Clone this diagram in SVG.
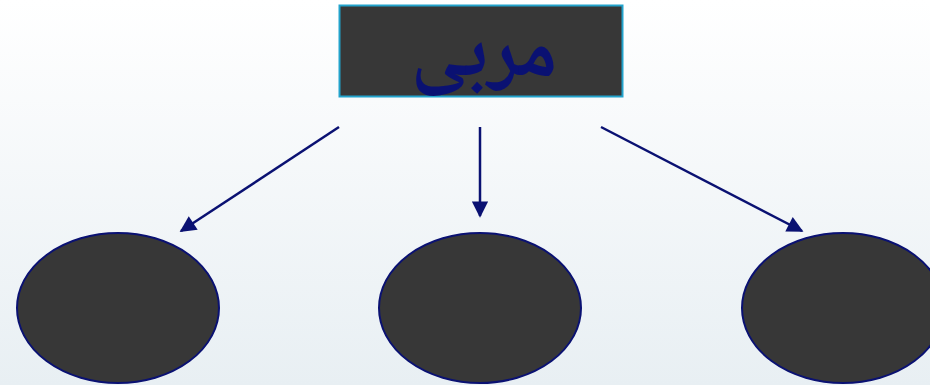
<svg xmlns="http://www.w3.org/2000/svg" width="930" height="385" viewBox="0 0 930 385">
<defs>
<linearGradient id="bg" x1="0" y1="0" x2="0" y2="1">
<stop offset="0" stop-color="#FFFFFF"/>
<stop offset="1" stop-color="#E8EFF3"/>
</linearGradient>
<marker id="ah" viewBox="0 0 10 10" refX="9" refY="5" markerWidth="7" markerHeight="6.5" orient="auto" markerUnits="strokeWidth">
<path d="M0,0 L10,5 L0,10 Z" fill="#0A1172"/>
</marker>
</defs>
<style>
.node{fill:#373737;stroke:#0A1172;stroke-width:2}
.conn{stroke:#0A1172;stroke-width:2.5;fill:none;marker-end:url(#ah)}
</style>
<rect width="930" height="385" fill="url(#bg)"/>
<g id="top">
<rect x="339.5" y="5.5" width="283" height="91" fill="#373737" stroke="#22A3CC" stroke-width="2"/>
<text x="484" y="76" text-anchor="middle" font-family="'Noto Naskh Arabic', 'Noto Sans Arabic', 'DejaVu Sans', sans-serif" font-weight="bold" font-size="80" fill="#0A1172">مربی</text>
</g>
<g id="connectors">
<line class="conn" x1="339" y1="127" x2="181" y2="231"/>
<line class="conn" x1="480" y1="127" x2="480" y2="216"/>
<line class="conn" x1="601" y1="127" x2="802" y2="231"/>
</g>
<g id="left"><ellipse class="node" cx="118" cy="308" rx="101" ry="75"/></g>
<g id="middle"><ellipse class="node" cx="480" cy="308" rx="101" ry="75"/></g>
<g id="right"><ellipse class="node" cx="843" cy="308" rx="101" ry="75"/></g>
</svg>
